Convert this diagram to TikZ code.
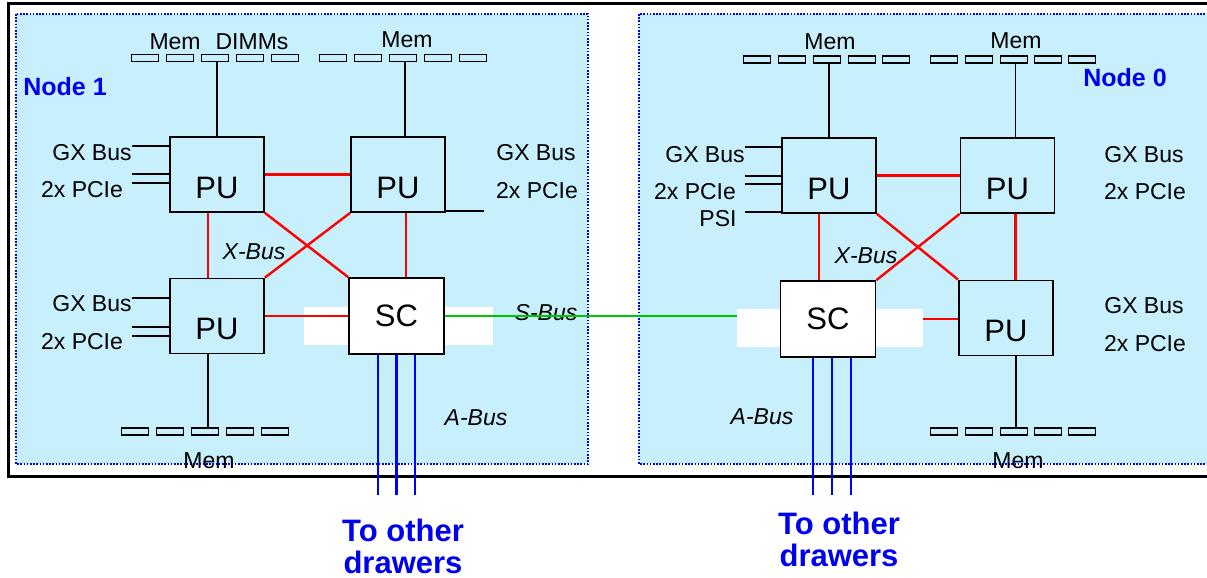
\documentclass[tikz,border=0pt]{standalone}
\usepackage{fontspec}
\setmainfont{Liberation Sans}
\definecolor{nodebg}{RGB}{200,239,252}
\definecolor{tblue}{RGB}{0,0,240}
\definecolor{sgreen}{RGB}{0,200,0}
\tikzset{
  pubox/.style={draw=black, line width=1.8pt, fill=nodebg, minimum width=94pt, minimum height=75pt, inner sep=0pt, font=\fontsize{31}{31}\selectfont, text height=47pt, text depth=0pt},
  scbox/.style={draw=black, line width=1.8pt, fill=white, minimum width=95pt, minimum height=76pt, inner sep=0pt, font=\fontsize{31}{31}\selectfont},
  dimm/.style={draw=black, line width=1.4pt, minimum width=27pt, minimum height=7pt, inner sep=0pt},
  lbl/.style={font=\fontsize{23}{23}\selectfont, inner sep=0pt},
  buslbl/.style={font=\fontsize{23}{23}\selectfont\itshape, inner sep=0pt},
  nodelbl/.style={font=\fontsize{25}{25}\selectfont\bfseries, text=tblue, inner sep=0pt},
  drawerlbl/.style={font=\fontsize{31}{32}\selectfont\bfseries, text=tblue, align=center, inner sep=0pt},
  blk/.style={draw=black, line width=1.6pt},
  xbus/.style={draw=red, line width=2.4pt},
  sbus/.style={draw=sgreen, line width=2.4pt},
  abus/.style={draw=blue, line width=2.6pt},
  nodearea/.style={fill=nodebg, draw=blue, line width=1.6pt, dash pattern=on 1.6pt off 1.6pt},
}
\begin{document}
\begin{tikzpicture}[x=1pt,y=-1pt]
\useasboundingbox (0,0) rectangle (1207,578);
% outer drawer frame
\draw[line width=3.5pt] (8.5,3.5) rectangle (1230,476.5);
% node areas
\draw[nodearea] (16,14) rectangle (588,464);
\draw[nodearea] (639,14) rectangle (1240,464);
% white area behind SC (node 1)
\fill[white] (304,307) rectangle (493,345);

% ---------- Node 1 ----------
\node[pubox] (p1a) at (217,174.5) {PU};
\node[pubox] (p1b) at (398,174.5) {PU};
\node[pubox] (p1c) at (217,316) {PU};
\node[scbox] (s1) at (396.5,316) {SC};

\foreach \x [count=\i] in {145,180,215,250,285} \node[dimm] (m1a\i) at (\x,58) {};
\foreach \x [count=\i] in {333,368,403,438,473} \node[dimm] (m1b\i) at (\x,58) {};
\foreach \x [count=\i] in {135,170,205,240,275} \node[dimm] (m1c\i) at (\x,431.5) {};

\node[lbl] (t1mem) at (219,41.5) {Mem\hspace{15pt}DIMMs};
\node[lbl] (t1memb) at (407,40) {Mem};
\node[lbl] (t1memc) at (209,461) {Mem};
\node[nodelbl] (n1) at (65,87) {Node 1};

\node[lbl] (g1a) at (92,153) {GX Bus};
\node[lbl] (c1a) at (82,190) {2x PCIe};
\node[lbl] (g1b) at (536,153) {GX Bus};
\node[lbl] (c1b) at (537,191) {2x PCIe};
\node[lbl] (g1c) at (92,304) {GX Bus};
\node[lbl] (c1c) at (82,342) {2x PCIe};
\node[buslbl] (x1) at (254,252) {X-Bus};
\node[buslbl] (sb) at (546,312.5) {S-Bus};
\node[buslbl] (a1) at (476,418) {A-Bus};
\node[drawerlbl] (d1) at (403,546) {To other\\drawers};

% memory links
\draw[blk] (p1a.north) -- (p1a.north |- m1a3.south);
\draw[blk] ([xshift=7pt]p1b.north) -- ([xshift=7pt]p1b.north |- m1b3.south);
\draw[blk] ([xshift=-9pt]p1c.south) -- ([xshift=-9pt]p1c.south |- m1c3.north);
% I/O links
\coordinate (io1) at (132,146);
\coordinate (io2) at (132,174);
\coordinate (io3) at (132,183);
\coordinate (io4) at (484,211);
\coordinate (io5) at (132,298);
\coordinate (io6) at (132,327);
\coordinate (io7) at (132,336);
\draw[blk] (io1) -- (io1 -| p1a.west);
\draw[blk] (io2) -- (io2 -| p1a.west);
\draw[blk] (io3) -- (io3 -| p1a.west);
\draw[blk] (io4) -- (io4 -| p1b.east);
\draw[blk] (io5) -- (io5 -| p1c.west);
\draw[blk] (io6) -- (io6 -| p1c.west);
\draw[blk] (io7) -- (io7 -| p1c.west);
% X-bus
\draw[xbus] (p1a.east) -- (p1b.west);
\draw[xbus] ([xshift=-9pt]p1a.south) -- ([xshift=-9pt]p1a.south |- p1c.north);
\draw[xbus] ([xshift=8pt]p1b.south) -- ([xshift=8pt]p1b.south |- s1.north);
\draw[xbus] (p1a.south east) -- (s1.north west);
\draw[xbus] (p1b.south west) -- (p1c.north east);
\draw[xbus] (p1c.east) -- (s1.west);
% A-bus
\coordinate (e1) at (378,495);
\coordinate (e2) at (396.5,495);
\coordinate (e3) at (415,495);
\draw[abus] (e1 |- s1.south) -- (e1);
\draw[abus] (e2 |- s1.south) -- (e2);
\draw[abus] (e3 |- s1.south) -- (e3);

% ---------- Node 0 ----------
\node[pubox] (p0a) at (829,175.5) {PU};
\node[pubox] (p0b) at (1007.5,175.5) {PU};
\node[pubox] (p0c) at (1006,318) {PU};
\node[scbox] (s0) at (828,319) {SC};

\foreach \x [count=\i] in {757,792,827,862,896} \node[dimm] (m0a\i) at (\x,59.5) {};
\foreach \x [count=\i] in {944,979,1014,1048,1082} \node[dimm] (m0b\i) at (\x,59.5) {};
\foreach \x [count=\i] in {944,979,1014,1048,1082} \node[dimm] (m0c\i) at (\x,431.5) {};

\node[lbl] (t0mema) at (830,42) {Mem};
\node[lbl] (t0memb) at (1016,41) {Mem};
\node[lbl] (t0memc) at (1018,461) {Mem};
\node[nodelbl] (n0) at (1125,78) {Node 0};

\node[lbl] (g0a) at (705,155) {GX Bus};
\node[lbl] (c0a) at (695,191.5) {2x PCIe};
\node[lbl] (ps0) at (718,219) {PSI};
\node[lbl] (g0b) at (1144,155) {GX Bus};
\node[lbl] (c0b) at (1145,191.5) {2x PCIe};
\node[lbl] (g0c) at (1144,306) {GX Bus};
\node[lbl] (c0c) at (1145,344) {2x PCIe};
\node[buslbl] (x0) at (866,256) {X-Bus};
\node[buslbl] (a0) at (762,417) {A-Bus};
\node[drawerlbl] (d0) at (839,539) {To other\\drawers};

% memory links
\draw[blk] (p0a.north) -- (p0a.north |- m0a3.south);
\draw[blk] ([xshift=8pt]p0b.north) -- ([xshift=8pt]p0b.north |- m0b3.south);
\draw[blk] ([xshift=10pt]p0c.south) -- ([xshift=10pt]p0c.south |- m0c3.north);
% I/O links
\coordinate (jo1) at (745,147);
\coordinate (jo2) at (745,176);
\coordinate (jo3) at (745,184);
\coordinate (jo4) at (745,212);
\draw[blk] (jo1) -- (jo1 -| p0a.west);
\draw[blk] (jo2) -- (jo2 -| p0a.west);
\draw[blk] (jo3) -- (jo3 -| p0a.west);
\draw[blk] (jo4) -- (jo4 -| p0a.west);
% X-bus
\draw[xbus] (p0a.east) -- (p0b.west);
\draw[xbus] ([xshift=-9pt]s0.north) -- ([xshift=-9pt]s0.north |- p0a.south);
\draw[xbus] ([xshift=8pt]p0b.south) -- ([xshift=8pt]p0b.south |- p0c.north);
\draw[xbus] (p0a.south east) -- (p0c.north west);
\draw[xbus] (p0b.south west) -- (s0.north east);
\draw[xbus] (s0.east) -- (s0.east -| p0c.west);
% A-bus
\coordinate (f1) at (813,495);
\coordinate (f2) at (832,495);
\coordinate (f3) at (851,495);
\draw[abus] (f1 |- s0.south) -- (f1);
\draw[abus] (f2 |- s0.south) -- (f2);
\draw[abus] (f3 |- s0.south) -- (f3);

% S-bus between the two SCs
\draw[sbus] (s1.east) -- (s1.east -| s0.west);
% white area beside SC (node 0), laid over the links
\fill[white] (737,309) rectangle (779.8,347);
\fill[white] (876.2,309) rectangle (923,347);
\end{tikzpicture}
\end{document}
